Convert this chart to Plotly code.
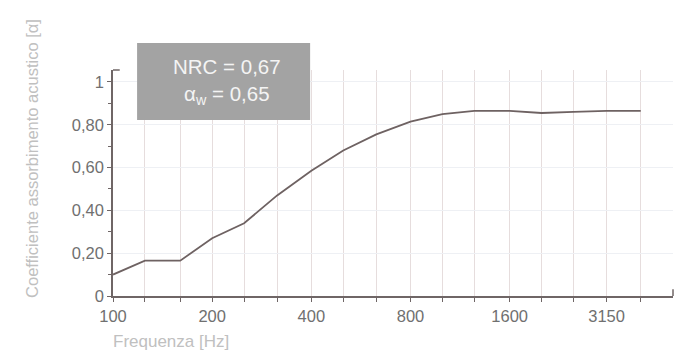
import plotly.graph_objects as go

# third-octave band centres and measured absorption coefficient
freq = [100, 125, 160, 200, 250, 315, 400, 500, 630, 800, 1000, 1250, 1600, 2000, 2500, 3150, 4000]
alpha = [0.10, 0.165, 0.165, 0.27, 0.34, 0.47, 0.585, 0.68, 0.755, 0.815, 0.85, 0.865, 0.865, 0.855, 0.86, 0.865, 0.865]

x_labels = ["100", "", "", "200", "", "", "400", "", "", "800", "", "", "1600", "", "", "3150", ""]
y_vals = [0, 0.2, 0.4, 0.6, 0.8, 1]
y_labels = ["0", "0,20", "0,40", "0,60", "0,80", "1"]

axis_col = "#6f6666"
font = "Liberation Sans, Arial, sans-serif"

fig = go.Figure()
fig.add_trace(go.Scatter(
    x=freq, y=alpha, mode="lines",
    line=dict(color="#6e6262", width=1.8),
    showlegend=False, hoverinfo="x+y",
))

fig.update_xaxes(
    type="log", range=[2, 3.70],
    tickvals=freq, ticktext=x_labels,
    ticks="outside", ticklen=4, tickcolor=axis_col,
    showline=True, linecolor=axis_col, linewidth=1.5,
    showgrid=True, gridcolor="#e6dddd", gridwidth=1,
    zeroline=False,
    tickfont=dict(size=16.5, color="#707070", family=font),
)
fig.update_yaxes(
    range=[0, 1.056],
    tickvals=y_vals, ticktext=y_labels,
    ticks="outside", ticklen=4, tickcolor=axis_col,
    minor=dict(dtick=0.1, ticks="outside", ticklen=3, tickcolor=axis_col, showgrid=False),
    showline=True, linecolor=axis_col, linewidth=1.5,
    showgrid=True, gridcolor="#eef0f4", gridwidth=1,
    zeroline=False,
    tickfont=dict(size=16.5, color="#707070", family=font),
)

# NRC box
fig.add_shape(type="rect", xref="paper", yref="paper",
              x0=0.043, x1=0.352, y0=0.779, y1=1.119,
              fillcolor="#a3a3a3", line=dict(width=0), layer="above")
fig.add_annotation(xref="paper", yref="paper", x=0.203, y=0.947,
                   xanchor="center", yanchor="middle",
                   text="NRC = 0,67<br>α<sub>w</sub> = 0,65", showarrow=False,
                   font=dict(size=20.5, color="#f4f4f4", family=font),
                   align="center")

# small caps at axis ends
fig.add_shape(type="line", xref="paper", yref="paper", x0=0, x1=0.012, y0=1, y1=1,
              line=dict(color=axis_col, width=1.5))
fig.add_shape(type="line", xref="paper", yref="paper", x0=1, x1=1, y0=0, y1=0.03,
              line=dict(color=axis_col, width=1.5))

# axis titles
fig.add_annotation(xref="paper", yref="paper", x=-0.145, y=0.61,
                   xanchor="center", yanchor="middle",
                   text="Coefficiente assorbimento acustico [α]", textangle=-90,
                   showarrow=False, font=dict(size=16.5, color="#c0c0c0", family=font))
fig.add_annotation(xref="paper", yref="paper", x=-0.004, y=-0.200,
                   xanchor="left", yanchor="middle",
                   text="Frequenza [Hz]", showarrow=False,
                   font=dict(size=17, color="#c0c0c0", family=font))

fig.update_layout(
    width=675, height=352,
    margin=dict(l=113, r=2, t=70, b=56),
    paper_bgcolor="white", plot_bgcolor="white",
    separators=",.",
)

fig.write_html("out.html", config={"displayModeBar": False},
               post_script="document.body.style.margin='0';document.body.style.overflow='hidden';")
